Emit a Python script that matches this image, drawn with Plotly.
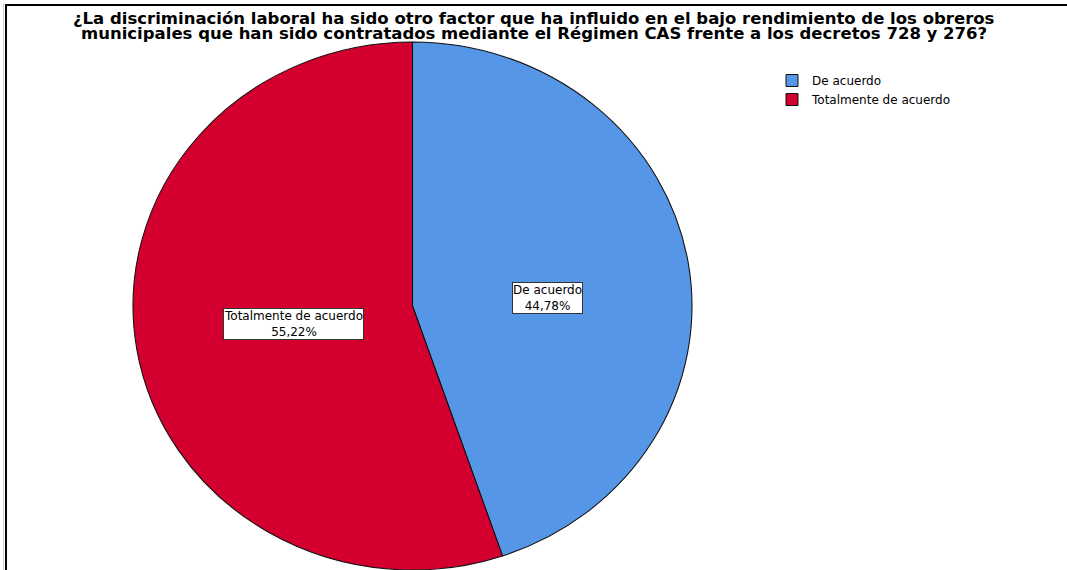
import plotly.graph_objects as go

# ---- data ----
categories = ["De acuerdo", "Totalmente de acuerdo"]
percentages = [44.78, 55.22]
pct_labels = ["44,78%", "55,22%"]
colors = ["#5596E6", "#D3002F"]
title_lines = [
    "¿La discriminación laboral ha sido otro factor que ha influido en el bajo rendimiento de los obreros",
    "municipales que han sido contratados mediante el Régimen CAS frente a los decretos 728 y 276?",
]

# ---- layout constants (pixels) ----
W, H = 1067, 570
CX, CY = 412.5, 306.0          # ellipse centre
RX, RY = 279.5, 264.0          # ellipse semi-axes
LABEL_PX = [(547, 297.5), (293.5, 324)]
TITLE_Y = [18.5, 33.5]
FONT = "DejaVu Sans, Verdana, sans-serif"

def px_x(x):
    return x / W

def px_y(y):
    return 1 - y / H

fig = go.Figure(
    go.Pie(
        labels=categories,
        values=percentages,
        marker=dict(colors=colors, line=dict(color="#111111", width=1)),
        sort=False,
        direction="clockwise",
        rotation=0,
        textinfo="none",
        hoverinfo="label+percent",
        domain=dict(x=[px_x(CX - RY), px_x(CX + RY)],
                    y=[max(0, px_y(CY + RY)), px_y(CY - RY)]),
        showlegend=True,
    )
)

annotations = []
for line, ty in zip(title_lines, TITLE_Y):
    annotations.append(dict(
        text=line, x=0.5, y=px_y(ty), xref="paper", yref="paper",
        xanchor="center", yanchor="middle", showarrow=False,
        font=dict(family=FONT, size=16.5, color="black", weight="bold"),
    ))
for (lx, ly), cat, pl in zip(LABEL_PX, categories, pct_labels):
    annotations.append(dict(
        text=f"{cat}<br>{pl}", x=px_x(lx), y=px_y(ly), xref="paper", yref="paper",
        xanchor="center", yanchor="middle", showarrow=False, align="center",
        font=dict(family=FONT, size=12, color="black"),
        bgcolor="white", bordercolor="#333333", borderwidth=1, borderpad=0,
    ))

shapes = [
    dict(type="rect", xref="paper", yref="paper", x0=px_x(6), x1=1.05, y0=-0.05, y1=px_y(5),
         line=dict(color="black", width=2), fillcolor="rgba(0,0,0,0)", layer="below"),
    dict(type="line", xref="paper", yref="paper", x0=px_x(3.5), x1=px_x(3.5), y0=-0.05, y1=px_y(3),
         line=dict(color="#d0d0d0", width=1), layer="below"),
]

fig.update_layout(
    width=W, height=H,
    margin=dict(l=0, r=0, t=0, b=0),
    paper_bgcolor="white", plot_bgcolor="white",
    annotations=annotations, shapes=shapes,
    legend=dict(x=px_x(772), y=px_y(66), xanchor="left", yanchor="top",
                font=dict(family=FONT, size=12, color="black"),
                bgcolor="rgba(0,0,0,0)", borderwidth=0, tracegroupgap=0),
    font=dict(family=FONT),
)

sx = RX / RY
post = """
var gd = document.getElementById('{plot_id}');
document.body.style.margin = '0';
document.body.style.overflow = 'hidden';
function stretchPie() {
  var pl = gd.querySelector('.pielayer');
  if (pl) { pl.setAttribute('transform', 'translate(%f,0) scale(%f,1)'); }
}
stretchPie();
setTimeout(stretchPie, 0);
if (gd.on) { gd.on('plotly_afterplot', stretchPie); }
""" % (CX * (1 - sx), sx)

fig.write_html("out.html", post_script=post, config={"displayModeBar": False, "responsive": False})
